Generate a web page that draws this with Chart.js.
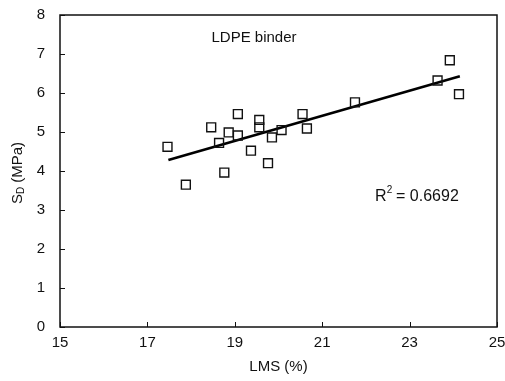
<!DOCTYPE html>
<html>
<head>
<meta charset="utf-8">
<script src="https://cdn.jsdelivr.net/npm/chart.js@4/dist/chart.umd.min.js"></script>
<style>
  html, body { margin: 0; padding: 0; background: #fff; }
  #wrap { width: 505px; height: 381px; }
</style>
</head>
<body>
<div id="wrap"><canvas id="chart"></canvas></div>
<script>
// measured points (LMS %, SD MPa)
var lmsValues = [17.46, 17.88, 18.46, 18.64, 18.76, 18.86, 19.07, 19.07, 19.37, 19.56,
                 19.56, 19.76, 19.85, 20.07, 20.55, 20.65, 21.75, 23.64, 23.92, 24.13];
var sdValues  = [4.62, 3.65, 5.12, 4.72, 3.96, 4.99, 5.46, 4.91, 4.52, 5.31,
                 5.12, 4.20, 4.86, 5.05, 5.46, 5.09, 5.76, 6.32, 6.84, 5.97];
// fitted line end points
var fitX = [17.48, 24.15];
var fitY = [4.28, 6.43];
var xTicks = [15, 17, 19, 21, 23, 25];
var yTicks = [0, 1, 2, 3, 4, 5, 6, 7, 8];
var FONT = "'Liberation Sans', Arial, sans-serif";

var points = lmsValues.map(function (v, i) { return { x: v, y: sdValues[i] }; });
var fitLine = fitX.map(function (v, i) { return { x: v, y: fitY[i] }; });

// box, inside ticks, annotations, y title
var decor = {
  id: 'decor',
  afterDraw: function (chart) {
    var ctx = chart.ctx, a = chart.chartArea;
    var xs = chart.scales.x, ys = chart.scales.y;
    ctx.save();
    ctx.strokeStyle = '#111';
    ctx.lineWidth = 1.5;
    ctx.strokeRect(a.left, a.top, a.right - a.left, a.bottom - a.top);
    ctx.lineWidth = 1;
    xTicks.forEach(function (t) {
      var px = Math.round(xs.getPixelForValue(t)) + 0.5;
      ctx.beginPath(); ctx.moveTo(px, a.bottom); ctx.lineTo(px, a.bottom - 5); ctx.stroke();
    });
    yTicks.forEach(function (t) {
      var py = Math.round(ys.getPixelForValue(t)) + 0.5;
      ctx.beginPath(); ctx.moveTo(a.left, py); ctx.lineTo(a.left + 5, py); ctx.stroke();
    });

    ctx.fillStyle = '#111';
    ctx.textBaseline = 'middle';
    ctx.textAlign = 'center';
    ctx.font = '15px ' + FONT;
    ctx.fillText('LDPE binder', xs.getPixelForValue(19.44), ys.getPixelForValue(7.41));

    // R^2 label
    ctx.font = '16px ' + FONT;
    ctx.textAlign = 'left';
    var rx = xs.getPixelForValue(22.21), ry = ys.getPixelForValue(3.35);
    ctx.fillText('R', rx, ry);
    var w = ctx.measureText('R').width;
    ctx.font = '10px ' + FONT;
    ctx.fillText('2', rx + w, ry - 6);
    ctx.font = '16px ' + FONT;
    ctx.fillText(' = 0.6692', rx + w + 5, ry);

    // y axis title: S with subscript D
    ctx.translate(18, (a.top + a.bottom) / 2 + 2);
    ctx.rotate(-Math.PI / 2);
    ctx.textAlign = 'left';
    var parts = [['S', 15, 0], ['D', 10, 3], [' (MPa)', 15, 0]];
    var total = 0;
    parts.forEach(function (p) { ctx.font = p[1] + 'px ' + FONT; total += ctx.measureText(p[0]).width; });
    var cx = -total / 2;
    parts.forEach(function (p) {
      ctx.font = p[1] + 'px ' + FONT;
      ctx.fillText(p[0], cx, p[2]);
      cx += ctx.measureText(p[0]).width;
    });
    ctx.restore();
  }
};

var ctx = document.getElementById('chart').getContext('2d');
var myChart = new Chart(ctx, {
  type: 'scatter',
  data: {
    datasets: [{
      data: points,
      pointStyle: 'rect',
      pointRadius: 6.3,
      pointBorderWidth: 1.4,
      borderColor: '#111',
      backgroundColor: 'rgba(0,0,0,0)'
    }, {
      type: 'line',
      data: fitLine,
      showLine: true,
      borderColor: '#000',
      borderWidth: 2.6,
      pointRadius: 0,
      fill: false
    }]
  },
  options: {
    responsive: true,
    maintainAspectRatio: false,
    animation: false,
    layout: { padding: { top: 15, right: 8, left: 0, bottom: 0 } },
    plugins: { legend: { display: false }, tooltip: { enabled: false } },
    scales: {
      x: {
        type: 'linear',
        min: 15, max: 25,
        afterBuildTicks: function (s) { s.ticks = xTicks.map(function (v) { return { value: v }; }); },
        afterFit: function (s) { s.height = 54; s.paddingLeft = 0; s.paddingRight = 0; },
        grid: { display: false, drawTicks: false },
        border: { display: false },
        ticks: { padding: 7, color: '#111', font: { family: FONT, size: 15 } },
        title: { display: true, text: 'LMS (%)', color: '#111', padding: { top: 0, bottom: 5 }, font: { family: FONT, size: 15 } }
      },
      y: {
        min: 0, max: 8,
        afterBuildTicks: function (s) { s.ticks = yTicks.map(function (v) { return { value: v }; }); },
        afterFit: function (s) { s.width = 60; s.paddingTop = 0; s.paddingBottom = 0; },
        grid: { display: false, drawTicks: false },
        border: { display: false },
        ticks: { padding: 15, color: '#111', font: { family: FONT, size: 15 } }
      }
    }
  },
  plugins: [decor]
});
</script>
</body>
</html>
